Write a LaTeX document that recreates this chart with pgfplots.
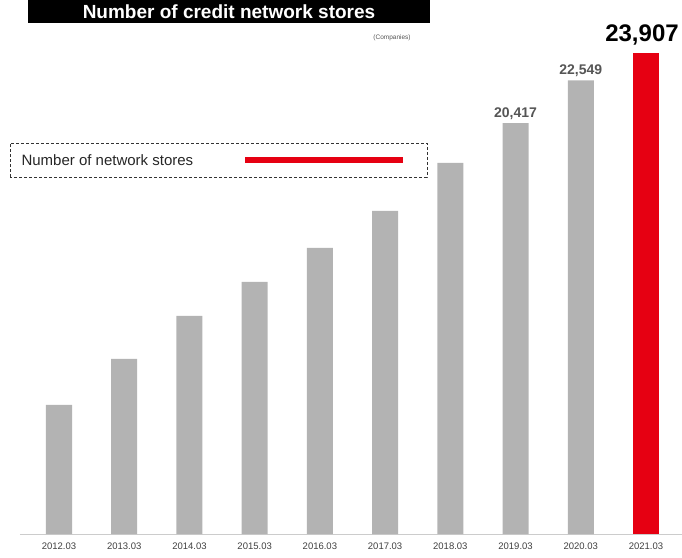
\documentclass[border=0pt]{standalone}
\usepackage{fontspec}
\setmainfont{Liberation Sans}
\usepackage{pgfplots}
\pgfplotsset{compat=1.18}
\definecolor{barg}{HTML}{B3B3B3}
\definecolor{barr}{HTML}{E60012}
\definecolor{lblg}{HTML}{555555}
\begin{document}
\begin{tikzpicture}[x=1pt,y=1pt]
\useasboundingbox (0,0) rectangle (682,557);
\begin{scope}
\clip (0,0) rectangle (682,557);
\fill[black] (28,534) rectangle (430,580);
\node[text=white,font=\fontsize{19}{19}\selectfont\bfseries] at (229,545) {Number of credit network stores};
\end{scope}
\node[font=\fontsize{6.5}{7}\selectfont,text=lblg] at (392,519) {(Companies)};
\begin{axis}[
  at={(59pt,23pt)}, anchor=origin,
  scale only axis, width=662pt, height=534pt,
  xmin=-0.6, xmax=9.55, ymin=0, ymax=26540,
  axis y line=none, axis x line*=bottom,
  x axis line style={draw=black!20, line width=0.8pt, -},
  xtick={0,...,9}, major tick length=0pt,
  xticklabels={2012.03,2013.03,2014.03,2015.03,2016.03,2017.03,2018.03,2019.03,2020.03,2021.03},
  xticklabel style={font=\fontsize{9.5}{10}\selectfont, text=black!75, yshift=-5pt},
  /pgf/number format/assume math mode=true,
  ybar, bar width=26pt, bar shift=0pt,
  clip=false,
]
\addplot[fill=barg, draw=none] coordinates {(0,6412) (1,8698) (2,10835) (3,12525) (4,14215) (5,16054) (6,18440) (7,20417) (8,22549)};
\addplot[fill=barr, draw=none] coordinates {(9,23907)};
\node[anchor=south, font=\fontsize{14}{14}\selectfont\bfseries, text=lblg] at (axis cs:7,20417) {20,417};
\node[anchor=south, font=\fontsize{14}{14}\selectfont\bfseries, text=lblg] at (axis cs:8,22549) {22,549};
\node[anchor=south, font=\fontsize{24}{24}\selectfont\bfseries, text=black, yshift=4pt, xshift=-4pt] at (axis cs:9,23907) {23,907};
\end{axis}
\draw[densely dashed, black!80, line width=0.9pt] (10,380) rectangle (427,414);
\node[anchor=west, font=\fontsize{15}{15}\selectfont, text=black!85] at (18,397) {Number of network stores};
\draw[barr, line width=6pt] (245,397) -- (403,397);
\end{tikzpicture}
\end{document}
